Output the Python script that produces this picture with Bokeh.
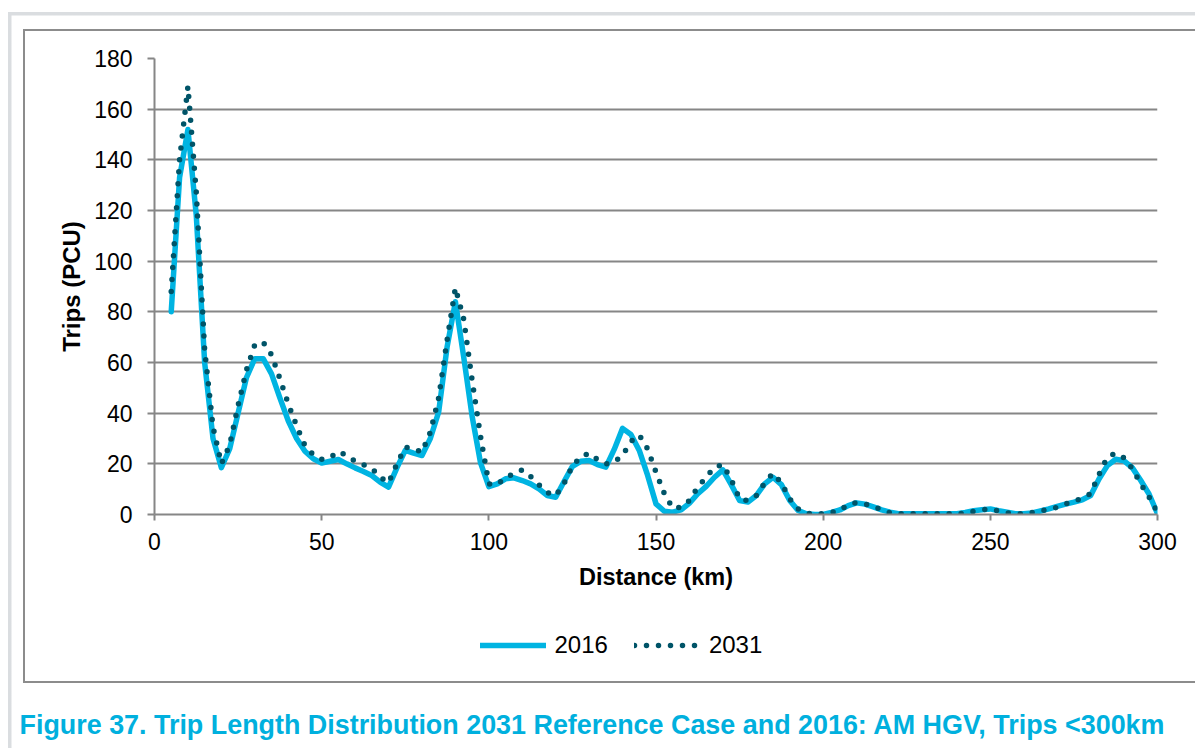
from bokeh.plotting import figure
from bokeh.models import Range1d, FixedTicker, Legend, LegendItem, Title
from bokeh.layouts import column
from bokeh.embed import file_html
from bokeh.resources import INLINE

# ---------------- data ----------------
distance_km = [5 + 2.5 * i for i in range(119)]  # 5, 7.5, ... 300

trips_2016 = [
    80, 133, 152, 118, 60, 30, 18.5, 26, 40, 54,
    61.5, 61.5, 55.5, 46, 37, 30, 25, 22, 20.3, 21,
    21.7, 20, 18.4, 17, 15.4, 12.8, 10.8, 18.4, 25.3, 24.2,
    23.3, 30, 40.5, 66, 84, 62, 38.8, 20.5, 11, 12.1,
    14.1, 14.5, 13.4, 12.1, 10.1, 7.5, 6.8, 13, 19, 21,
    21.3, 19.7, 18.7, 25.7, 34, 31.6, 25.3, 15.4, 4.2, 1.3,
    0.9, 1.8, 4.5, 8.2, 11.1, 14.7, 17.6, 11.8, 5.5, 4.9,
    7.5, 12.1, 14.7, 11.8, 5.5, 1.6, 0.3, 0, 0, 0.8,
    1.8, 3.5, 4.6, 4.1, 3.0, 1.8, 0.9, 0.3, 0.3, 0.3,
    0.3, 0.3, 0.3, 0.3, 0.3, 0.8, 1.5, 1.9, 2.2, 1.5,
    0.9, 0.3, 0.3, 0.6, 1.4, 2.2, 3.2, 4.1, 4.9, 5.8,
    7.5, 14, 19.3, 21.8, 21.2, 18.4, 13.4, 8, 0.3,
]

trips_2031 = [
    88, 140, 169, 127, 65, 34.5, 20, 27.5, 43, 57,
    67, 68, 63, 53.6, 43.7, 35, 27.2, 23.6, 21.8, 22.5,
    24.9, 23.3, 21, 19.6, 18.3, 14.7, 12.5, 20, 26.6, 26,
    24.6, 32.5, 46, 68.7, 89.5, 77, 53, 31, 12.1, 11.8,
    14.7, 16, 17.6, 15, 11.7, 8.7, 7.5, 12.3, 19.1, 22.8,
    24.2, 21.7, 20, 20.7, 23.3, 28.8, 31.4, 25.9, 16.7, 8.2,
    2.5, 2.8, 5.5, 10.8, 14.7, 18.7, 19.6, 13.8, 6.2, 5.5,
    7.5, 12.5, 16.3, 12.5, 6.2, 2.2, 0.5, 0.1, 0.3, 0.8,
    1.6, 3.9, 4.7, 4.2, 3.2, 1.8, 0.7, 0.3, 0.3, 0.3,
    0.3, 0.3, 0.3, 0.3, 0.3, 0.5, 1.2, 1.8, 2.2, 1.4,
    0.7, 0.3, 0.3, 0.8, 1.3, 2.2, 2.8, 4.2, 5.3, 6.4,
    8.2, 15.8, 22.6, 24.2, 22.4, 18, 12.1, 6.8, 0.9,
]

x_ticks = [0, 50, 100, 150, 200, 250, 300]
y_ticks = [0, 20, 40, 60, 80, 100, 120, 140, 160, 180]
series_names = ["2016", "2031"]
x_title = "Distance (km)"
y_title = "Trips (PCU)"
caption = "Figure 37.  Trip Length Distribution 2031 Reference Case and 2016:  AM HGV, Trips <300km"

# ---------------- styles / layout ----------------
FONT = "Liberation Sans"
GRAY = "#868686"
CYAN = "#00B4E2"
TEAL = "#005468"
CAPTION_COLOR = "#00B0DE"

W, H = 1195, 748
AX_L, AX_R, AX_T, AX_B = 154, 1157, 58, 514
HA = 610            # height of the chart figure
HB = H - HA         # height of the legend / caption strip
B_FRAME_BOTTOM = 708

LINE16 = dict(line_color=CYAN, line_width=5.5, line_join="round", line_cap="round")
LINE31 = dict(line_color=TEAL, line_width=5.5, line_dash="0 12",
              line_cap="round", line_join="round")

# ---------------- chart ----------------
p = figure(width=W, height=HA, output_backend="svg", toolbar_location=None,
           x_range=Range1d(0, 300), y_range=Range1d(0, 180),
           min_border_left=AX_L, min_border_right=W - AX_R,
           min_border_top=AX_T, min_border_bottom=HA - AX_B)
p.outline_line_color = None
p.background_fill_alpha = 0
p.border_fill_alpha = 0

for ax in (p.xaxis[0], p.yaxis[0]):
    ax.axis_line_color = GRAY
    ax.axis_line_width = 2
    ax.major_tick_line_color = GRAY
    ax.major_tick_line_width = 2
    ax.minor_tick_line_color = None
    ax.major_tick_in = 0
    ax.major_label_text_font = FONT
    ax.major_label_text_font_size = "23px"
    ax.major_label_text_color = "black"
    ax.axis_label_text_font = FONT
    ax.axis_label_text_font_style = "bold"
    ax.axis_label_text_color = "black"

p.xaxis.ticker = FixedTicker(ticks=x_ticks)
p.yaxis.ticker = FixedTicker(ticks=y_ticks)
p.xaxis.major_tick_out = 6
p.yaxis.major_tick_out = 7
p.xaxis.major_label_standoff = 12
p.yaxis.major_label_standoff = 15
p.xaxis.axis_label = x_title
p.yaxis.axis_label = y_title
p.xaxis.axis_label_text_font_size = "23.5px"
p.yaxis.axis_label_text_font_size = "24px"
p.xaxis.axis_label_standoff = 11
p.yaxis.axis_label_standoff = 6

p.xgrid.grid_line_color = None
p.ygrid.grid_line_color = GRAY
p.ygrid.grid_line_width = 2
p.ygrid.ticker = FixedTicker(ticks=y_ticks)

r1 = p.line(distance_km, trips_2016, **LINE16)
r2 = p.line(distance_km, trips_2031, **LINE31)

# ---------------- legend + caption strip ----------------
q = figure(width=W, height=HB, output_backend="svg", toolbar_location=None,
           x_range=Range1d(0, 300), y_range=Range1d(0, 180),
           x_axis_type=None, y_axis_type=None,
           min_border_left=AX_L, min_border_right=W - AX_R,
           min_border_top=0, min_border_bottom=H - B_FRAME_BOTTOM)
q.outline_line_color = None
q.background_fill_alpha = 0
q.border_fill_alpha = 0
q.xgrid.grid_line_color = None
q.ygrid.grid_line_color = None

k1 = q.line(distance_km, trips_2016, visible=False, **LINE16)
k2 = q.line(distance_km, trips_2031, visible=False, **LINE31)

legend = Legend(items=[LegendItem(label=series_names[0], renderers=[k1]),
                       LegendItem(label=series_names[1], renderers=[k2])],
                orientation="horizontal", location=(479.5 - AX_L, B_FRAME_BOTTOM - 659),
                glyph_width=66, glyph_height=28, label_standoff=9, spacing=26,
                padding=0, margin=0, border_line_color=None,
                background_fill_alpha=0, inactive_fill_alpha=0,
                label_text_font=FONT, label_text_font_size="24px",
                label_text_color="black")
q.add_layout(legend, "center")

q.add_layout(Title(text=caption, align="left", offset=19 - AX_L, standoff=0,
                   vertical_align="middle",
                   text_font=FONT, text_font_style="bold", text_font_size="26.9px",
                   text_color=CAPTION_COLOR), "below")

# page decoration: light grey document frame and grey chart-area border
G2 = "#8C8C8C"
G1 = "#DADDE0"
page = column(p, q, spacing=0, styles={
    "background": (
        f"linear-gradient({G2},{G2}) 23px 29px / 3000px 2px no-repeat, "
        f"linear-gradient({G2},{G2}) 23px 29px / 2px 654px no-repeat, "
        f"linear-gradient({G2},{G2}) 23px 681px / 3000px 2px no-repeat, "
        f"linear-gradient({G1},{G1}) 8px 12px / 3000px 3.5px no-repeat, "
        f"linear-gradient({G1},{G1}) 8px 12px / 3.5px 3000px no-repeat, "
        "white"
    )
})

open("out.html", "w").write(file_html(page, INLINE))
